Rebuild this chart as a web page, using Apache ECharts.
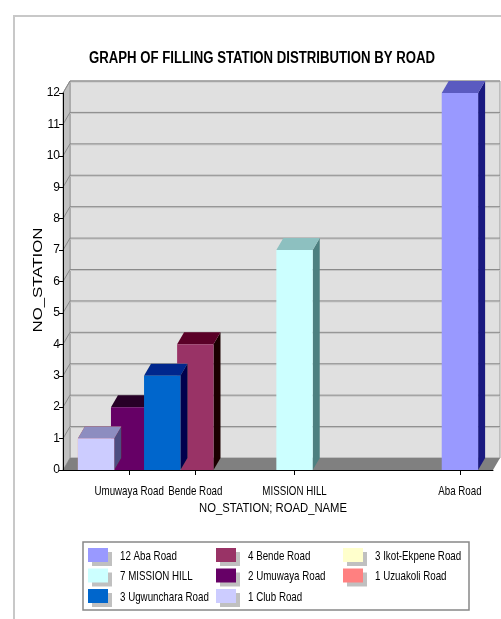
<!DOCTYPE html>
<html>
<head>
<meta charset="utf-8">
<script src="https://cdn.jsdelivr.net/npm/echarts@6.0.0/dist/echarts.min.js"></script>
<style>
  html, body { margin: 0; padding: 0; background: #fff; }
  #chart { width: 501px; height: 619px; }
</style>
</head>
<body>
<div id="chart"></div>
<script>
// Filling stations per road (series order as in the workbook)
const roadNames = ['Aba Road', 'Bende Road', 'Ikot-Ekpene Road', 'MISSION HILL',
                   'Umuwaya Road', 'Uzuakoli Road', 'Ugwunchara Road', 'Club Road'];
const stationCounts = [12, 4, 3, 7, 2, 1, 3, 1];
const roadColors = ['#9999ff', '#993366', '#ffffcc', '#ccffff',
                    '#660066', '#ff8080', '#0066cc', '#ccccff'];

// Category-axis labels (x axis is the station count)
const xLabelValues = [2, 4, 7, 12];
const xLabelNames = ['Umuwaya Road', 'Bende Road', 'MISSION HILL', 'Aba Road'];

// Value axis
const yMin = 0, yMax = 12, yStep = 1;
const xMin = 0, xMax = 13;

// Legend columns (indices into roadNames)
const legendColumns = [[0, 3, 6], [1, 4, 7], [2, 5]];

const FAMILY = "'Liberation Sans', Arial, sans-serif";
const NARROW_SCALE = 0.75;   // condensed look for labels

// 3D depth offset of the walls and bars, in pixels
const DX = 7, DY = -12;

function shade(hex, amt) {
  const n = parseInt(hex.slice(1), 16);
  const ch = [(n >> 16) & 255, (n >> 8) & 255, n & 255].map(v => Math.max(0, v - amt));
  return 'rgb(' + ch.join(',') + ')';
}

const measureCtx = document.createElement('canvas').getContext('2d');
function textWidth(text, font) {
  measureCtx.font = font;
  return measureCtx.measureText(text).width;
}
// text element squeezed horizontally (a scale, or a target width)
function narrowText(text, x, y, font, align, opts) {
  opts = opts || {};
  const sx = opts.width ? opts.width / textWidth(text, font) : NARROW_SCALE;
  return {
    type: 'text', silent: true, x: x, y: y,
    rotation: opts.rotation || 0, scaleX: sx,
    style: { text: text, font: font, fill: '#000', align: align, verticalAlign: 'middle' }
  };
}

const seriesLabels = roadNames.map((n, i) => stationCounts[i] + ' ' + n);

// Walls, floor and gridlines
const frameSeries = {
  type: 'custom',
  name: 'frame',
  z: -1,
  silent: true,
  data: [[0, 0]],
  renderItem: function (params, api) {
    const p0 = api.coord([xMin, yMin]);
    const pR = api.coord([xMax, yMin]);
    const pT = api.coord([xMin, yMax]);
    const x0 = p0[0], xR = pR[0], y0 = p0[1], yT = pT[1];
    const children = [];
    children.push({ type: 'rect', shape: { x: x0 + DX, y: yT + DY, width: xR - x0, height: y0 - yT },
      style: { fill: '#e0e0e0', stroke: '#9a9a9a', lineWidth: 1 } });
    children.push({ type: 'polygon', shape: { points: [[x0, yT], [x0 + DX, yT + DY], [x0 + DX, y0 + DY], [x0, y0]] },
      style: { fill: '#c0c0c0', stroke: '#9a9a9a', lineWidth: 1 } });
    for (let v = yMin + yStep; v <= yMax; v += yStep) {
      const y = api.coord([xMin, v])[1];
      children.push({ type: 'line', shape: { x1: x0 + DX, y1: y + DY + 1, x2: xR + DX, y2: y + DY + 1 },
        style: { stroke: '#c4c4c4', lineWidth: 1 } });
      children.push({ type: 'line', shape: { x1: x0 + DX, y1: y + DY, x2: xR + DX, y2: y + DY },
        style: { stroke: '#8a8a8a', lineWidth: 1 } });
      children.push({ type: 'line', shape: { x1: x0, y1: y, x2: x0 + DX, y2: y + DY },
        style: { stroke: '#8a8a8a', lineWidth: 1 } });
    }
    children.push({ type: 'polygon', shape: { points: [[x0, y0], [x0 + DX, y0 + DY], [xR + DX, y0 + DY], [xR, y0]] },
      style: { fill: '#808080' } });
    return { type: 'group', children: children };
  }
};

function barRender(params, api) {
  const xv = api.value(0), yv = api.value(1);
  const top = api.coord([xv, yv]);
  const base = api.coord([xv, yMin]);
  const half = api.size([1, 0])[0] * 0.55;
  const L = top[0] - half, R = top[0] + half, T = top[1], B = base[1];
  const col = api.visual('color');
  return {
    type: 'group',
    children: [
      { type: 'polygon', shape: { points: [[R, T], [R + DX, T + DY], [R + DX, B + DY], [R, B]] },
        style: { fill: shade(col, 127) } },
      { type: 'polygon', shape: { points: [[L, T], [L + DX, T + DY], [R + DX, T + DY], [R, T]] },
        style: { fill: shade(col, 63) } },
      { type: 'rect', shape: { x: L, y: T, width: R - L, height: B - T },
        style: { fill: col } }
    ]
  };
}

const barSeries = roadNames.map((n, i) => ({
  type: 'custom',
  name: seriesLabels[i],
  z: 2,
  itemStyle: { color: roadColors[i] },
  data: [[stationCounts[i], stationCounts[i]]],
  renderItem: barRender
}));

const chart = echarts.init(document.getElementById('chart'), null, { renderer: 'canvas' });
chart.setOption({
  animation: false,
  backgroundColor: '#fff',
  grid: { left: 63, top: 93, width: 430, height: 377 },
  xAxis: {
    type: 'value',
    min: xMin,
    max: xMax,
    axisLine: { show: true, lineStyle: { color: '#000', width: 1 } },
    axisTick: { show: true, customValues: xLabelValues, length: 5, lineStyle: { color: '#000' } },
    axisLabel: { show: false },
    splitLine: { show: false }
  },
  yAxis: {
    type: 'value',
    min: yMin,
    max: yMax,
    interval: yStep,
    axisLine: { show: true, lineStyle: { color: '#000', width: 1 } },
    axisTick: { show: true, length: 4, lineStyle: { color: '#000' } },
    axisLabel: { margin: 3, fontFamily: FAMILY, fontSize: 12, color: '#000' },
    splitLine: { show: false }
  },
  series: [frameSeries].concat(barSeries)
});

// Texts, category labels and legend
const font13 = '13px ' + FAMILY;
const elements = [
  { type: 'rect', silent: true, z: -10,
    shape: { x: 14, y: 16, width: 600, height: 700 },
    style: { fill: 'none', stroke: '#c8c8c8', lineWidth: 2 } },
  narrowText('GRAPH OF FILLING STATION DISTRIBUTION BY ROAD', 262, 59, 'bold 16px ' + FAMILY, 'center', { width: 346 }),
  narrowText('NO_STATION', 39, 280, '12px ' + FAMILY, 'center', { width: 105, rotation: Math.PI / 2 }),
  narrowText('NO_STATION; ROAD_NAME', 273, 508, font13, 'center', { width: 148 })
];

const baseY = chart.convertToPixel({ gridIndex: 0 }, [xMin, yMin])[1];
xLabelValues.forEach((v, k) => {
  const px = chart.convertToPixel({ gridIndex: 0 }, [v, yMin])[0];
  elements.push(narrowText(xLabelNames[k], px, baseY + 21, font13, 'center'));
});

// Legend box
const legendBox = { x: 83, y: 542, width: 386, height: 68 };
const legendColX = [88, 216, 343];
const legendRowY = [548, 568.5, 589];
elements.push({ type: 'rect', silent: true, shape: legendBox,
  style: { fill: 'none', stroke: '#888', lineWidth: 1.5 } });
legendColumns.forEach((col, c) => {
  col.forEach((i, r) => {
    const sx = legendColX[c], sy = legendRowY[r];
    elements.push({ type: 'rect', silent: true, shape: { x: sx + 4, y: sy + 4, width: 20, height: 14 },
      style: { fill: '#c0c0c0' } });
    elements.push({ type: 'rect', silent: true, shape: { x: sx, y: sy, width: 20, height: 14 },
      style: { fill: roadColors[i] } });
    elements.push(narrowText(seriesLabels[i], sx + 32, sy + 8, font13, 'left'));
  });
});

chart.setOption({ graphic: { elements: elements } });
</script>
</body>
</html>
